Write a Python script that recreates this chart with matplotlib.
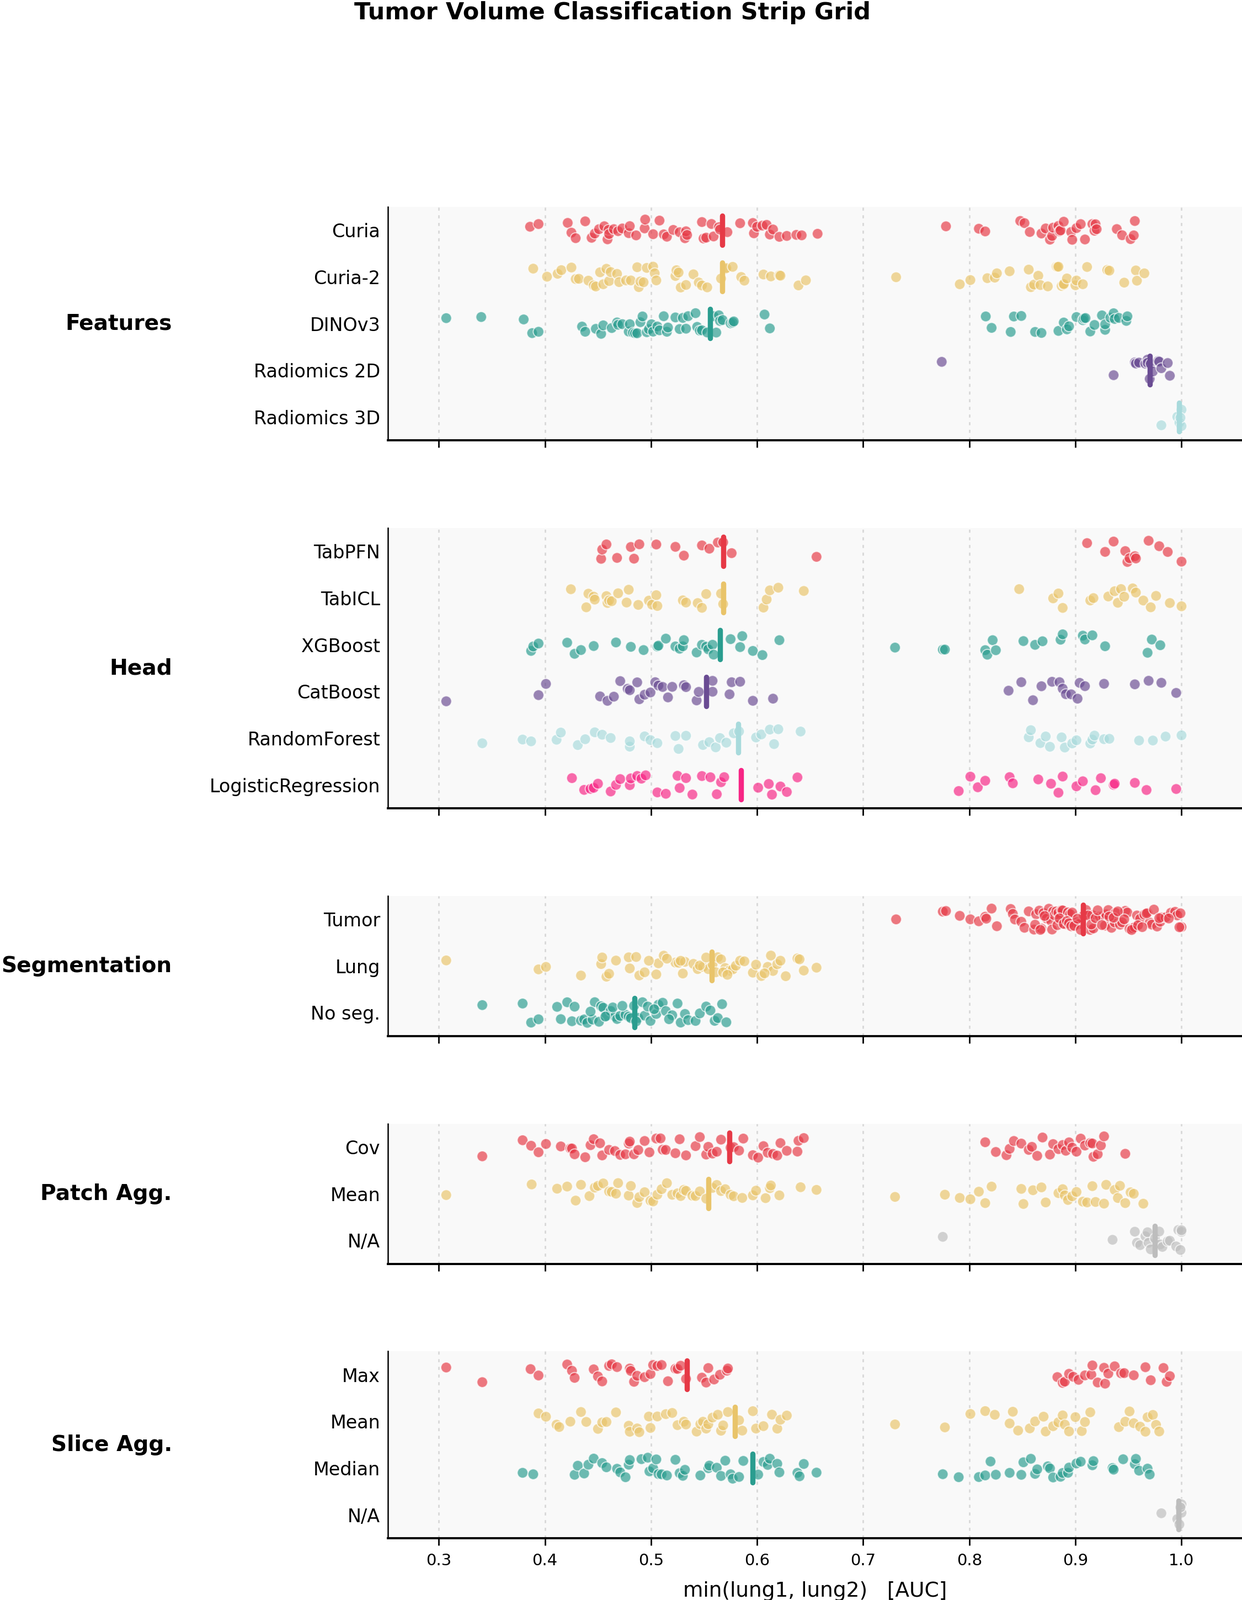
import numpy as np
import pandas as pd
import matplotlib
matplotlib.use("Agg")
import matplotlib.pyplot as plt
import seaborn as sns

palette = ["#E63946", "#E9C46A", "#2A9D8F", "#6A4C93", "#A8DADC", "#F72585"]
na_color = "#BDBDBD"

# ---- Features ----
curia = [0.386, 0.394, 0.4215, 0.425, 0.429, 0.438, 0.444, 0.447, 0.451, 0.456, 0.459, 0.460,
         0.4605, 0.465, 0.469, 0.473, 0.479, 0.480, 0.486, 0.494, 0.4945, 0.502, 0.508, 0.512,
         0.515, 0.521, 0.527, 0.532, 0.533, 0.534, 0.548, 0.5495, 0.552, 0.557, 0.559, 0.564,
         0.565, 0.572, 0.584, 0.596, 0.597, 0.600, 0.605, 0.609, 0.612, 0.615, 0.621, 0.628,
         0.637, 0.642, 0.657,
         0.778, 0.809, 0.815, 0.848, 0.852, 0.857, 0.868, 0.872, 0.876, 0.878, 0.879, 0.884,
         0.885, 0.886, 0.889, 0.896, 0.897, 0.901, 0.905, 0.909, 0.916, 0.918, 0.919, 0.920,
         0.939, 0.944, 0.952, 0.955, 0.956]
curia2 = [0.389, 0.402, 0.412, 0.4155, 0.425, 0.429, 0.432, 0.441, 0.446, 0.448, 0.452, 0.455,
          0.458, 0.4605, 0.462, 0.468, 0.470, 0.4765, 0.481, 0.487, 0.4885, 0.490, 0.493, 0.496,
          0.502, 0.5035, 0.505, 0.523, 0.524, 0.526, 0.528, 0.533, 0.540, 0.545, 0.548, 0.553,
          0.566, 0.570, 0.571, 0.577, 0.585, 0.588, 0.606, 0.613, 0.621, 0.622, 0.639, 0.646,
          0.731, 0.791, 0.801, 0.817, 0.824, 0.826, 0.838, 0.856, 0.858, 0.861, 0.865, 0.867,
          0.874, 0.882, 0.883, 0.884, 0.887, 0.889, 0.889, 0.892, 0.900, 0.901, 0.907, 0.911,
          0.930, 0.932, 0.946, 0.957, 0.958, 0.965]
dinov3 = [0.307, 0.340, 0.380, 0.388, 0.394, 0.435, 0.438, 0.448, 0.453, 0.455, 0.463, 0.468,
          0.469, 0.473, 0.479, 0.480, 0.483, 0.485, 0.487, 0.490, 0.492, 0.496, 0.498, 0.5005,
          0.502, 0.506, 0.508, 0.512, 0.515, 0.516, 0.523, 0.527, 0.530, 0.533, 0.535, 0.542,
          0.5435, 0.546, 0.548, 0.553, 0.559, 0.5615, 0.564, 0.565, 0.5675, 0.575, 0.577, 0.578,
          0.607, 0.612,
          0.8155, 0.821, 0.839, 0.842, 0.849, 0.862, 0.868, 0.884, 0.889, 0.892, 0.894, 0.901,
          0.907, 0.908, 0.9095, 0.914, 0.918, 0.925, 0.928, 0.928, 0.933, 0.936, 0.937, 0.941,
          0.948, 0.949]
radiomics_2d = [0.774, 0.936, 0.956, 0.957, 0.960, 0.966, 0.968, 0.968, 0.970, 0.971, 0.973,
                0.978, 0.979, 0.981, 0.987, 0.989]
radiomics_3d = [0.981, 0.996, 0.998, 1.0, 1.0, 0.999]
features_levels = ["Curia", "Curia-2", "DINOv3", "Radiomics 2D", "Radiomics 3D"]
features_medians = [0.567, 0.567, 0.5555, 0.970, 0.9975]

# ---- Head ----
tabpfn = [0.453, 0.454, 0.458, 0.468, 0.481, 0.484, 0.489, 0.505, 0.523, 0.531, 0.548, 0.555,
          0.563, 0.568, 0.576, 0.656,
          0.911, 0.928, 0.936, 0.947, 0.949, 0.951, 0.956, 0.957, 0.969, 0.979, 0.987, 1.0]
tabicl = [0.4245, 0.439, 0.441, 0.446, 0.447, 0.458, 0.459, 0.4605, 0.463, 0.469, 0.477, 0.479,
          0.488, 0.498, 0.501, 0.505, 0.506, 0.530, 0.533, 0.544, 0.548, 0.552, 0.566, 0.568,
          0.606, 0.609, 0.612, 0.620, 0.644,
          0.847, 0.879, 0.884, 0.888, 0.914, 0.917, 0.931, 0.937, 0.940, 0.943, 0.946, 0.954,
          0.957, 0.964, 0.971, 0.976, 0.989, 1.0]
xgboost = [0.387, 0.389, 0.394, 0.421, 0.428, 0.434, 0.446, 0.467, 0.481, 0.493, 0.506, 0.507,
           0.514, 0.523, 0.527, 0.530, 0.531, 0.543, 0.548, 0.552, 0.554, 0.558, 0.559, 0.575,
           0.584, 0.586, 0.596, 0.605, 0.621,
           0.730, 0.775, 0.777, 0.815, 0.817, 0.822, 0.825, 0.851, 0.862, 0.869, 0.886, 0.888,
           0.907, 0.909, 0.916, 0.928, 0.968, 0.972, 0.980]
catboost = [0.307, 0.394, 0.401, 0.452, 0.459, 0.465, 0.471, 0.478, 0.480, 0.487, 0.489, 0.494,
            0.4995, 0.504, 0.507, 0.511, 0.516, 0.520, 0.531, 0.533, 0.543, 0.545, 0.558, 0.558,
            0.574, 0.576, 0.584, 0.596, 0.615,
            0.837, 0.849, 0.860, 0.868, 0.878, 0.885, 0.888, 0.891, 0.896, 0.902, 0.904, 0.909,
            0.927, 0.956, 0.969, 0.981, 0.995]
random_forest = [0.341, 0.379, 0.387, 0.411, 0.415, 0.431, 0.438, 0.447, 0.454, 0.462, 0.480,
                 0.480, 0.494, 0.4995, 0.506, 0.523, 0.526, 0.533, 0.549, 0.555, 0.561, 0.565,
                 0.571, 0.578, 0.583, 0.599, 0.604, 0.612, 0.616, 0.620, 0.641,
                 0.856, 0.858, 0.867, 0.872, 0.876, 0.887, 0.890, 0.897, 0.901, 0.914, 0.916,
                 0.918, 0.927, 0.932, 0.960, 0.973, 0.985, 1.0]
logreg = [0.4255, 0.437, 0.443, 0.446, 0.450, 0.462, 0.467, 0.471, 0.480, 0.481, 0.487, 0.491,
          0.495, 0.506, 0.514, 0.525, 0.527, 0.533, 0.539, 0.548, 0.556, 0.562, 0.566, 0.569,
          0.601, 0.611, 0.614, 0.622, 0.628, 0.638,
          0.790, 0.801, 0.808, 0.815, 0.838, 0.841, 0.865, 0.877, 0.884, 0.888, 0.901, 0.907,
          0.919, 0.924, 0.936, 0.937, 0.956, 0.967, 0.995]
head_levels = ["TabPFN", "TabICL", "XGBoost", "CatBoost", "RandomForest", "LogisticRegression"]
head_medians = [0.568, 0.568, 0.565, 0.552, 0.582, 0.585]

# ---- Segmentation ----
seg_tumor = [0.731, 0.775, 0.778, 0.791, 0.801, 0.809, 0.815, 0.816, 0.821, 0.826, 0.839, 0.841,
             0.843, 0.849, 0.852, 0.856, 0.861, 0.863, 0.866, 0.868, 0.870, 0.873, 0.875, 0.877,
             0.879, 0.880, 0.882, 0.884, 0.886, 0.887, 0.888, 0.890, 0.893, 0.895, 0.897, 0.901,
             0.903, 0.908, 0.910, 0.914, 0.916, 0.917, 0.923, 0.926, 0.928, 0.929, 0.931, 0.934,
             0.937, 0.938, 0.942, 0.944, 0.947, 0.949, 0.951, 0.954, 0.956, 0.958, 0.961, 0.965,
             0.968, 0.970, 0.972, 0.977, 0.980, 0.981, 0.985, 0.990, 0.994, 0.996, 0.999, 1.0,
             0.862, 0.867, 0.871, 0.878, 0.883, 0.885, 0.889, 0.892, 0.894, 0.896, 0.899, 0.902,
             0.905, 0.912, 0.915, 0.919, 0.921, 0.925, 0.932, 0.936, 0.940, 0.946, 0.953, 0.959,
             0.963, 0.967, 0.974, 0.979, 0.988, 0.998]
seg_lung = [0.307, 0.394, 0.401, 0.434, 0.453, 0.454, 0.458, 0.4605, 0.467, 0.479, 0.480, 0.486,
            0.489, 0.494, 0.505, 0.507, 0.512, 0.523, 0.526, 0.530, 0.532, 0.540, 0.544, 0.549,
            0.554, 0.558, 0.563, 0.566, 0.570, 0.574, 0.577, 0.580, 0.584, 0.596, 0.599, 0.604,
            0.610, 0.613, 0.615, 0.619, 0.622, 0.627, 0.638, 0.640, 0.644, 0.656,
            0.498, 0.515, 0.528, 0.546, 0.552, 0.561, 0.568, 0.572, 0.588, 0.607]
seg_none = [0.341, 0.379, 0.387, 0.394, 0.4115, 0.415, 0.421, 0.4255, 0.428, 0.434, 0.437, 0.440,
            0.445, 0.447, 0.453, 0.455, 0.458, 0.462, 0.466, 0.468, 0.471, 0.476, 0.479, 0.484,
            0.488, 0.492, 0.494, 0.4995, 0.505, 0.507, 0.511, 0.514, 0.520, 0.525, 0.528, 0.532,
            0.535, 0.542, 0.546, 0.552, 0.556, 0.560, 0.563, 0.567, 0.571,
            0.443, 0.451, 0.457, 0.464, 0.473, 0.481, 0.486, 0.497, 0.503, 0.517]
seg_levels = ["Tumor", "Lung", "No seg."]
seg_medians = [0.907, 0.557, 0.4845]

# ---- Patch aggregation ----
patch_cov = [0.341, 0.379, 0.387, 0.394, 0.401, 0.415, 0.424, 0.4255, 0.428, 0.438, 0.443, 0.446,
             0.452, 0.454, 0.4605, 0.466, 0.471, 0.476, 0.479, 0.480, 0.484, 0.488, 0.494, 0.4985,
             0.505, 0.509, 0.511, 0.514, 0.523, 0.527, 0.533, 0.542, 0.546, 0.552, 0.554, 0.558,
             0.562, 0.566, 0.575, 0.578, 0.583, 0.587, 0.596, 0.601, 0.606, 0.610, 0.615, 0.619,
             0.622, 0.628, 0.638, 0.639, 0.644,
             0.815, 0.825, 0.835, 0.838, 0.842, 0.849, 0.856, 0.859, 0.864, 0.869, 0.876, 0.879,
             0.884, 0.888, 0.891, 0.894, 0.897, 0.901, 0.905, 0.909, 0.914, 0.916, 0.917, 0.921,
             0.924, 0.927, 0.947]
patch_mean = [0.307, 0.3875, 0.4115, 0.421, 0.429, 0.434, 0.442, 0.447, 0.450, 0.455, 0.4605,
              0.463, 0.467, 0.469, 0.479, 0.481, 0.487, 0.489, 0.494, 0.4995, 0.502, 0.506, 0.510,
              0.515, 0.520, 0.525, 0.528, 0.531, 0.533, 0.539, 0.542, 0.546, 0.552, 0.558, 0.562,
              0.566, 0.570, 0.575, 0.578, 0.586, 0.596, 0.599, 0.608, 0.612, 0.613, 0.621, 0.641,
              0.656,
              0.730, 0.777, 0.791, 0.801, 0.809, 0.815, 0.821, 0.849, 0.851, 0.860, 0.868, 0.872,
              0.884, 0.888, 0.890, 0.893, 0.897, 0.901, 0.907, 0.911, 0.916, 0.919, 0.927, 0.929,
              0.937, 0.940, 0.942, 0.947, 0.952, 0.955, 0.964]
patch_na = [0.775, 0.935, 0.956, 0.958, 0.961, 0.966, 0.968, 0.969, 0.971, 0.975, 0.979, 0.980,
            0.982, 0.987, 0.989, 0.995, 0.997, 0.999, 1.0, 1.0]
patch_levels = ["Cov", "Mean", "N/A"]
patch_medians = [0.574, 0.554, 0.975]

# ---- Slice aggregation ----
slice_max = [0.307, 0.341, 0.3865, 0.394, 0.421, 0.4255, 0.428, 0.446, 0.450, 0.454, 0.4605,
             0.463, 0.468, 0.480, 0.481, 0.484, 0.487, 0.494, 0.4995, 0.502, 0.506, 0.510, 0.516,
             0.523, 0.525, 0.528, 0.533, 0.548, 0.552, 0.554, 0.5595, 0.565, 0.5715, 0.5725,
             0.883, 0.888, 0.890, 0.894, 0.898, 0.903, 0.909, 0.915, 0.916, 0.921, 0.927, 0.928,
             0.931, 0.937, 0.943, 0.946, 0.955, 0.966, 0.971, 0.983, 0.986, 0.989]
slice_mean = [0.394, 0.401, 0.411, 0.4135, 0.424, 0.434, 0.439, 0.450, 0.454, 0.458, 0.467,
              0.479, 0.480, 0.487, 0.489, 0.498, 0.4995, 0.506, 0.514, 0.520, 0.525, 0.531, 0.533,
              0.543, 0.5465, 0.549, 0.552, 0.554, 0.558, 0.563, 0.566, 0.568, 0.5725, 0.583,
              0.586, 0.596, 0.599, 0.606, 0.614, 0.619, 0.622, 0.628,
              0.730, 0.777, 0.801, 0.815, 0.824, 0.838, 0.841, 0.846, 0.857, 0.862, 0.870, 0.872,
              0.879, 0.884, 0.888, 0.890, 0.894, 0.900, 0.906, 0.909, 0.914, 0.941, 0.947, 0.951,
              0.955, 0.961, 0.966, 0.968, 0.973, 0.976, 0.979]
slice_median = [0.379, 0.389, 0.428, 0.431, 0.437, 0.441, 0.446, 0.454, 0.458, 0.468, 0.471,
                0.476, 0.479, 0.480, 0.491, 0.497, 0.4985, 0.502, 0.505, 0.507, 0.510, 0.515,
                0.523, 0.527, 0.530, 0.532, 0.5465, 0.554, 0.555, 0.562, 0.566, 0.570, 0.575,
                0.577, 0.583, 0.587, 0.601, 0.606, 0.610, 0.612, 0.619, 0.621, 0.638, 0.640,
                0.644, 0.656,
                0.775, 0.790, 0.809, 0.815, 0.820, 0.825, 0.838, 0.849, 0.851, 0.858, 0.862,
                0.864, 0.874, 0.876, 0.879, 0.886, 0.888, 0.893, 0.894, 0.901, 0.905, 0.916,
                0.917, 0.935, 0.936, 0.945, 0.956, 0.957, 0.960, 0.968, 0.970]
slice_na = [0.981, 0.996, 0.998, 1.0, 1.0, 0.999]
slice_levels = ["Max", "Mean", "Median", "N/A"]
slice_medians = [0.534, 0.579, 0.596, 0.997]

panels = [
    ("Features", features_levels, [curia, curia2, dinov3, radiomics_2d, radiomics_3d], features_medians),
    ("Head", head_levels, [tabpfn, tabicl, xgboost, catboost, random_forest, logreg], head_medians),
    ("Segmentation", seg_levels, [seg_tumor, seg_lung, seg_none], seg_medians),
    ("Patch Agg.", patch_levels, [patch_cov, patch_mean, patch_na], patch_medians),
    ("Slice Agg.", slice_levels, [slice_max, slice_mean, slice_median, slice_na], slice_medians),
]

fig = plt.figure(figsize=(11.255, 14.5), dpi=200)
gs = fig.add_gridspec(len(panels), 1, height_ratios=[len(p[1]) for p in panels],
                      left=0.3123, right=1.0, top=0.8707, bottom=0.0386, hspace=0.447)

for k, (group, levels, values, medians) in enumerate(panels):
    ax = fig.add_subplot(gs[k])
    colors = {lev: (na_color if lev == "N/A" else palette[i]) for i, lev in enumerate(levels)}
    df = pd.DataFrame({
        "value": np.concatenate([np.asarray(v, dtype=float) for v in values]),
        "level": np.concatenate([[lev] * len(v) for lev, v in zip(levels, values)]),
    })
    sns.stripplot(data=df, x="value", y="level", order=levels, hue="level", hue_order=levels,
                  palette=colors, jitter=0.23, size=7.0, alpha=0.68, edgecolor="white",
                  linewidth=0.7, legend=False, ax=ax, zorder=2)
    for i, (lev, m) in enumerate(zip(levels, medians)):
        ax.plot([m, m], [i - 0.31, i + 0.31], color=colors[lev], lw=3.4,
                solid_capstyle="round", zorder=4)

    ax.set_facecolor("#F9F9F9")
    ax.set_xlim(0.252, 1.057)
    ax.set_ylim(len(levels) - 0.5, -0.5)
    ax.set_xticks(np.arange(0.3, 1.01, 0.1))
    ax.set_xticklabels([f"{t:.1f}" for t in np.arange(0.3, 1.01, 0.1)])
    ax.grid(axis="x", color="#D8D8D8", linestyle=(0, (2, 3)), linewidth=1.0)
    ax.grid(axis="y", visible=False)
    ax.set_axisbelow(True)
    ax.set_ylabel("")
    ax.set_xlabel("")
    ax.tick_params(axis="y", length=0, pad=5, labelsize=12)
    ax.tick_params(axis="x", length=4.8, width=1.0, direction="out", labelsize=10.5, pad=5)
    for s in ["top", "right"]:
        ax.spines[s].set_visible(False)
    ax.spines["left"].set_linewidth(0.9)
    ax.spines["bottom"].set_linewidth(1.4)
    if k < len(panels) - 1:
        ax.tick_params(axis="x", labelbottom=False)
    else:
        ax.set_xlabel("min(lung1, lung2)   [AUC]", fontsize=13.5, labelpad=8)

    ax.text(0.1385, 0.5, group, transform=matplotlib.transforms.blended_transform_factory(
        fig.transFigure, ax.transAxes), ha="right", va="center", fontsize=14.1, fontweight="bold")

fig.text(0.493, 0.992, "Tumor Volume Classification Strip Grid", ha="center", va="center",
         fontsize=15.5, fontweight="bold")

fig.savefig("out.png", dpi=200)
